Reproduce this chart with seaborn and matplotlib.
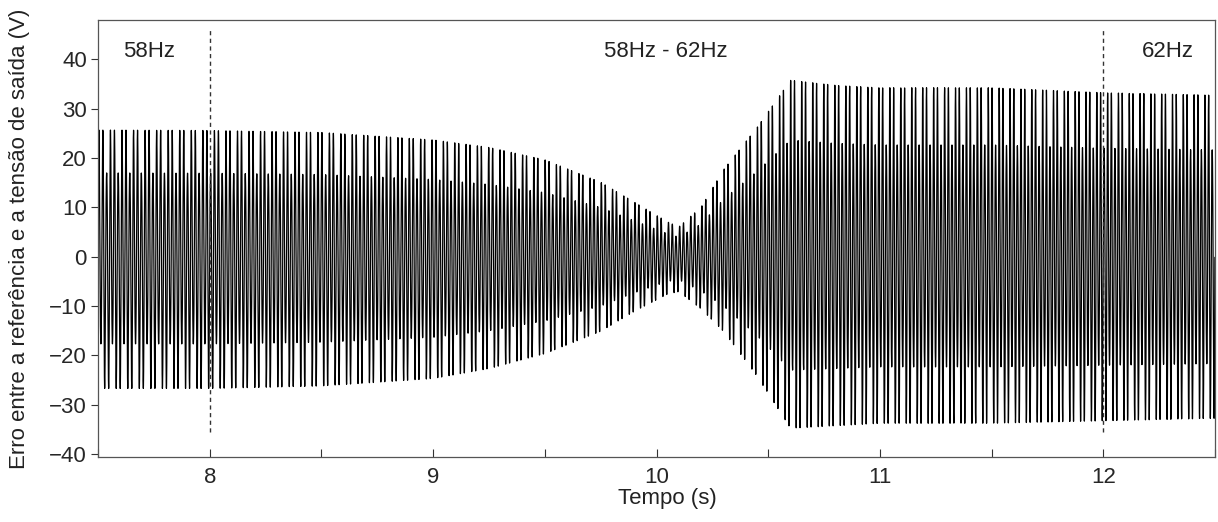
import numpy as np
import pandas as pd
import seaborn as sns
import matplotlib
matplotlib.use("Agg")
import matplotlib.pyplot as plt
from matplotlib.ticker import MultipleLocator

# envelope of the error signal (V)
env_t = [7.5, 8.0, 8.5, 9.0, 9.25, 9.5, 9.75, 9.9, 10.05, 10.1, 10.2, 10.3, 10.45, 10.6, 10.8, 11.0, 11.5, 12.0, 12.5]
env_hi = [25.5, 25.4, 25.0, 23.5, 22.0, 19.5, 15.0, 11.0, 7.0, 6.0, 10.0, 17.5, 26.0, 35.5, 34.5, 34.0, 34.0, 33.0, 32.5]
env_lo = [-26.5, -26.5, -26.0, -24.5, -22.5, -19.5, -15.0, -11.0, -7.5, -7.0, -10.5, -15.0, -24.0, -34.5, -34.0, -33.5, -33.5, -33.0, -32.5]

# reference frequency: 58 Hz, ramp 58 -> 62 Hz, then 62 Hz
freq_t = [7.5, 8.0, 12.0, 12.5]
freq_hz = [58, 58, 62, 62]

# labels
region_labels = ["58Hz", "58Hz - 62Hz", "62Hz"]
region_x = [7.61, 10.04, 12.29]
switch_times = [8, 12]
sample_rate = 4000

# build the waveform: two tall cycles, then one reaching ~60 % of the envelope
t = np.arange(7.5, 12.5, 1 / sample_rate)
f = np.interp(t, freq_t, freq_hz)
phase = 2 * np.pi * np.cumsum(f) / sample_rate
s = np.sin(phase) * (0.8 + 0.2 * np.cos(2 * phase / 3)) / 0.9
hi = np.interp(t, env_t, env_hi)
lo = np.interp(t, env_t, env_lo)
err = np.where(s > 0, s * hi, -s * lo)
df = pd.DataFrame({"tempo": t, "erro": err})

sns.set_theme(style="white")
plt.rcParams["font.family"] = ["Liberation Sans", "DejaVu Sans"]
plt.rcParams["axes.unicode_minus"] = True

fig = plt.figure(figsize=(12.18, 5.22), dpi=100)
ax = fig.add_axes([0.0805, 0.1245, 0.917, 0.8372])

sns.lineplot(data=df, x="tempo", y="erro", ax=ax, color="black", linewidth=0.9, estimator=None)

ax.vlines(switch_times, -35.5, 46, colors="#333333", linestyles=(0, (3, 2.5)), linewidth=1.0)
for lbl, xx in zip(region_labels, region_x):
    ha = "left" if xx < 8 else "center"
    ax.text(xx, 41.7, lbl, ha=ha, va="center", fontsize=16, color="#222222")

ax.set_xlim(7.5, 12.5)
ax.set_ylim(-40.6, 48)
ax.xaxis.set_major_locator(MultipleLocator(1))
ax.xaxis.set_minor_locator(MultipleLocator(0.5))
ax.yaxis.set_major_locator(MultipleLocator(10))
ax.tick_params(axis="x", which="both", direction="in", length=6, width=0.8, color="#333333",
               labelsize=16, pad=7, bottom=True)
ax.tick_params(axis="y", direction="out", length=5, width=0.8, color="#333333", labelsize=16,
               pad=3, left=True)
ax.set_xlabel("Tempo (s)", fontsize=16, color="#222222")
ax.xaxis.set_label_coords(0.51, -0.072)
ax.set_ylabel("Erro entre a referência e a tensão de saída (V)", fontsize=16, color="#222222")
ax.yaxis.set_label_coords(-0.061, 0.5)
for sp in ax.spines.values():
    sp.set_color("#555555")
    sp.set_linewidth(0.9)

fig.savefig("out.png", dpi=100)
